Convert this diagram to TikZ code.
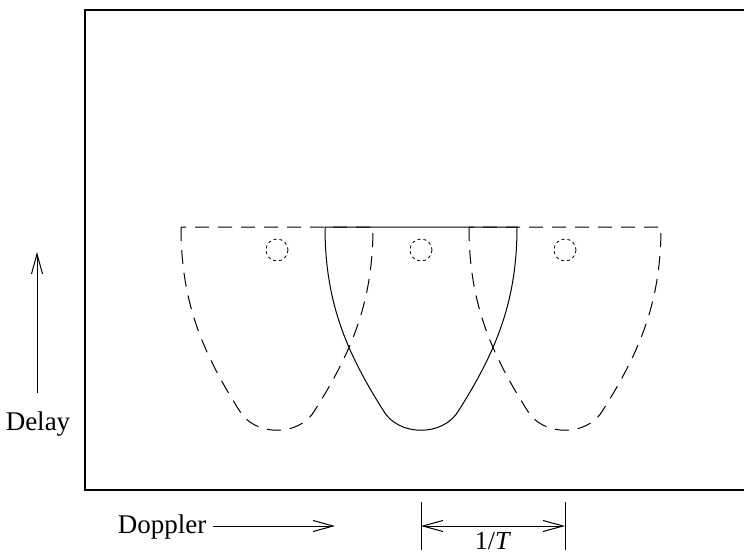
\documentclass[tikz,border=0pt]{standalone}
\usepackage{fontspec}
\setmainfont{Liberation Serif}
\usetikzlibrary{arrows.meta}
\begin{document}
\begin{tikzpicture}[x=1pt,y=-1pt,line width=1pt,
  lbl/.style={font=\fontsize{27}{31}\selectfont,inner sep=0pt},
  dsh/.style={dash pattern=on 14pt off 9pt},
  dot/.style={dash pattern=on 3pt off 3pt, line width=0.8pt},
  barb/.style={-{Straight Barb[length=20pt,width=11pt,line width=1pt]}},
  shp/.pic={\draw[#1] (-96,0) .. controls (-96,73) and (-76,123) .. (-38,183) .. controls (-23,210) and (23,210) .. (38,183) .. controls (76,123) and (96,73) .. (96,0) -- cycle;}]
\useasboundingbox (0,0) rectangle (744,555);
% frame
\draw[line width=1.2pt] (746,10) -- (85,10) -- (85,490) -- (746,490);
% shapes
\pic at (277,227) {shp=dsh};
\pic at (565,227) {shp=dsh};
\pic at (421,227) {shp=solid};
\draw[dot] (277,250) circle (11);
\draw[dot] (421,250) circle (11);
\draw[dot] (565,250) circle (11);
% delay
\node[lbl] (delay) at (38,424) {Delay};
\coordinate (d0) at (37,393);
\coordinate (d1) at (37,252);
\draw[barb] (d0) -- (d1);
% doppler
\node[lbl] (dop) at (162,527) {Doppler};
\coordinate (p0) at (213,526);
\coordinate (p1) at (335,526);
\draw[barb] (p0) -- (p1);
% 1/T
\coordinate (ta) at (421,502);
\coordinate (tb) at (421,550);
\coordinate (tc) at (565,502);
\coordinate (td) at (565,550);
\draw (ta) -- (tb);
\draw (tc) -- (td);
\coordinate (a0) at (421,526);
\coordinate (a1) at (565,526);
\draw[barb] (493,526) -- (a0);
\draw[barb] (493,526) -- (a1);
\node[lbl,font=\fontsize{26}{30}\selectfont] (T) at (493,541) {1/\textit{T}};
\end{tikzpicture}
\end{document}
